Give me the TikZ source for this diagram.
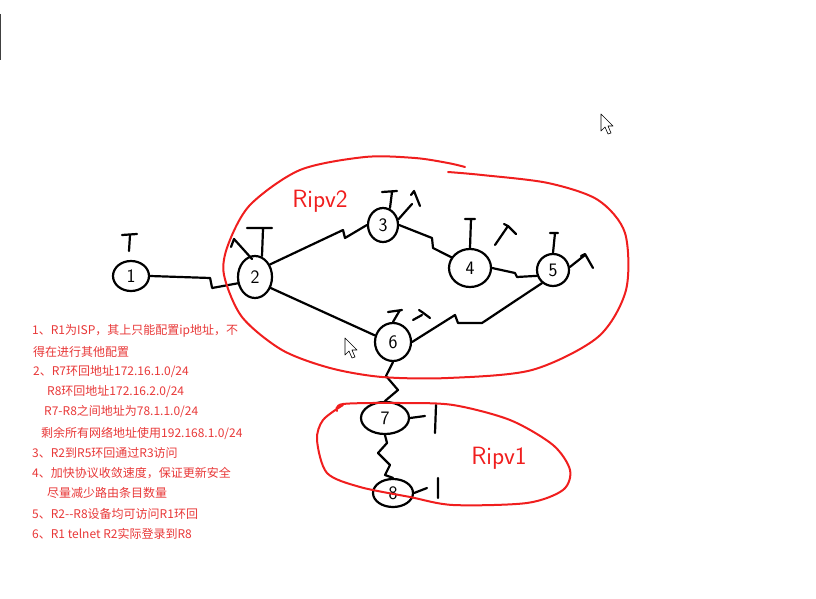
\documentclass[tikz,border=0pt]{standalone}
\usepackage{fontspec}
\newfontfamily\cjk{Noto Sans CJK SC}
\usetikzlibrary{positioning, shapes.geometric}
\definecolor{penred}{RGB}{240,30,30}
\definecolor{notered}{RGB}{232,56,56}
\tikzset{
  router/.style={draw, ellipse, line width=2.2pt, inner sep=0pt, font=\sffamily\fontsize{19}{19}\selectfont},
  wire/.style={line width=2.2pt, line join=round, line cap=round},
  area/.style={draw=penred, line width=2pt, line cap=round},
  areaname/.style={text=penred, font=\sffamily\fontsize{25}{25}\selectfont},
  note/.style={anchor=west, text=notered, font=\cjk\fontsize{12}{14}\selectfont, inner sep=0pt},
}

\begin{document}
\begin{tikzpicture}[x=1pt, y=-1pt]
    \useasboundingbox (0,0) rectangle (816,599);
    \draw[gray!50!black, line width=0.8pt] (0.4,14) -- (0.4,60);

    % Routers
    \node[router, minimum width=36pt, minimum height=30pt] (r1) at (131,276) {1};
    \node[router, minimum width=34pt, minimum height=42pt] (r2) at (255,277) {2};
    \node[router, minimum width=30pt, minimum height=34pt] (r3) at (383,225) {3};
    \node[router, minimum width=42pt, minimum height=38pt] (r4) at (470,268) {4};
    \node[router, minimum width=32pt, minimum height=32pt] (r5) at (553,270) {5};
    \node[router, minimum width=36pt, minimum height=38pt] (r6) at (393,342) {6};
    \node[router, minimum width=48pt, minimum height=32pt] (r7) at (385,418) {7};
    \node[router, minimum width=40pt, minimum height=28pt] (r8) at (393,493) {8};

    % Links
    \draw[wire] (r1.east) -- ++(60,2) -- ++(2,10) -- (r2.200);
    \draw[wire] (r2.40) -- (343,230) -- (345,238) -- (r3.west);
    \draw[wire] (r2.-35) -- (r6.160);
    \draw[wire] (r3.east) -- (432,238) -- (433,248) -- (r4.150);
    \draw[wire] (r4.east) -- (515,273) -- (517,277) -- (r5.200);
    \draw[wire] (r5.230) -- (482,323) -- (458,323) -- (455,315) -- (r6.east);
    \draw[wire] (r6.south) -- (386,376) -- (398,390) -- (385,401) -- (r7.north);
    \draw[wire] (r7.south) -- (387,443) -- (378,453) -- (390,465) -- (385,475) -- (r8.north);

    % Loopbacks
    \draw[wire] (122,235) -- (137,234) (130,235) -- (129,251);
    \draw[wire] (247,228) -- (272,228) (263,229) -- (262,256);
    \draw[wire] (231,247) -- (234,239) -- (252,259);
    \draw[wire] (382,192) -- (397,191) (392,192) -- (390,208);
    \draw[wire] (r3.20) -- (412,204) (411,195) -- (414,191) -- (420,206);
    \draw[wire] (465,219) -- (475,219) (471,219) -- (r4.north);
    \draw[wire] (495,245) -- (508,226) -- (516,234) (504,224) -- (508,226);
    \draw[wire] (550,233) -- (558,233) (555,233) -- (r5.north);
    \draw[wire] (r5.10) -- (585,255) (581,256) -- (585,254) -- (593,268);
    \draw[wire] (388,312) -- (402,310) (400,310) -- (r6.north);
    \draw[wire] (413,320) -- (422,315) (419,310) -- (422,312) -- (430,318);
    \draw[wire] (r7.east) -- (425,416) (436,405) -- (435,433);
    \draw[wire] (r8.east) -- (427,488) (438,478) -- (438,498);

    % Routing areas
    \draw[area] plot[smooth] coordinates {(465,167) (448,163) (415,158) (365,157) (300,170) (250,205) (228,245) (224,275) (242,317) (282,350) (330,368) (382,377) (448,378) (532,370) (598,337) (626,290) (625,233) (598,200) (548,183) (482,175) (448,172)};
    \draw[area] plot[smooth] coordinates {(337,411) (343,404) (400,403) (453,405) (510,420) (553,445) (570,470) (563,490) (527,503) (453,505) (410,497) (360,487) (327,473) (317,440) (323,420) (343,405)};
    \node[areaname] (ripv2) at (320,201) {Ripv2};
    \node[areaname] (ripv1) at (499,458) {Ripv1};

    % Mouse pointers
    \foreach \px/\py in {601/114, 345/338} {
      \draw[fill=white, line width=0.6pt, line join=round, shift={(\px,\py)}] (0,0) -- (0,17) -- (4,13) -- (7,20) -- (10,19) -- (7,12) -- (12,12) -- cycle;
    }

    % Requirements
    \foreach \i/\x/\y/\t in {1/32/331/{1、R1为ISP，其上只能配置ip地址，不},
                             2/33/352/{得在进行其他配置},
                             3/33/372/{2、R7环回地址172.16.1.0/24},
                             4/47/392/{R8环回地址172.16.2.0/24},
                             5/44/412/{R7-R8之间地址为78.1.1.0/24},
                             6/41/433/{剩余所有网络地址使用192.168.1.0/24},
                             7/32/453/{3、R2到R5环回通过R3访问},
                             8/32/473/{4、加快协议收敛速度，保证更新安全},
                             9/47/493/{尽量减少路由条目数量},
                             10/32/514/{5、R2--R8设备均可访问R1环回},
                             11/32/534/{6、R1 telnet R2实际登录到R8}} {
      \node[note] (note\i) at (\x,\y) {\t};
    }
\end{tikzpicture}
\end{document}
